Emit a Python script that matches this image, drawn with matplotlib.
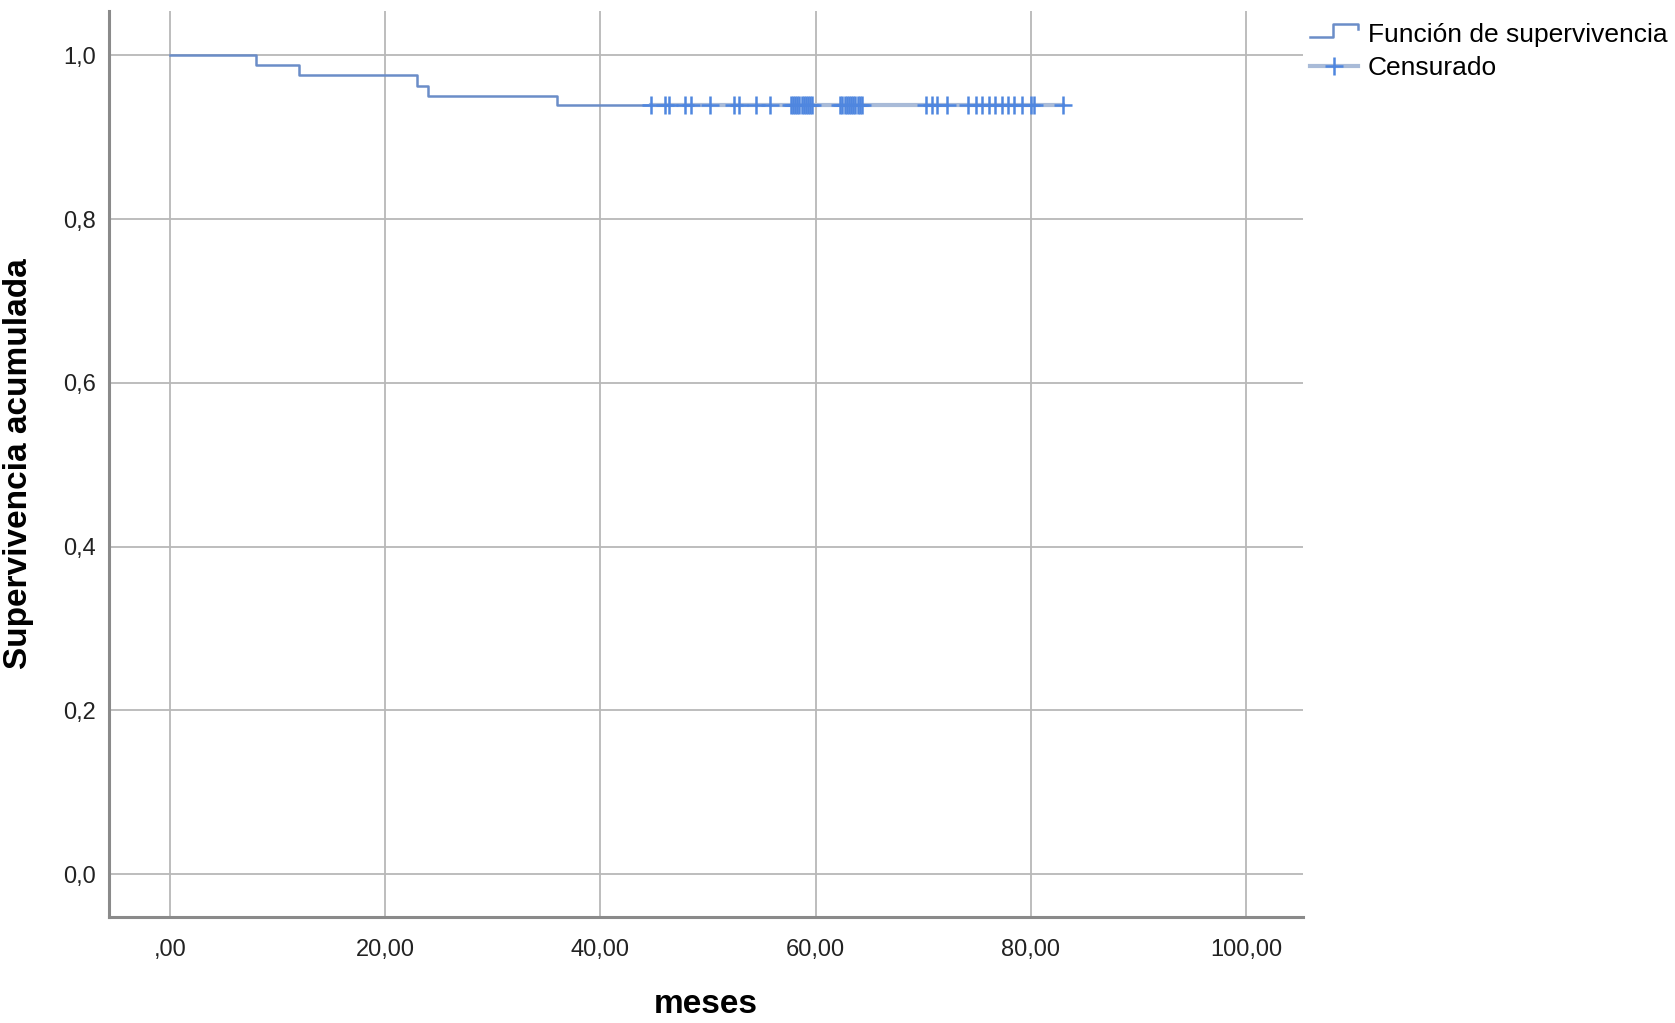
import matplotlib
matplotlib.use("Agg")
import matplotlib.pyplot as plt
from matplotlib.legend_handler import HandlerBase
from matplotlib.lines import Line2D

plt.rcParams['font.family'] = ['Liberation Sans', 'DejaVu Sans']

# Kaplan-Meier: tiempos de evento y supervivencia acumulada
event_times = [0, 8, 12, 23, 24, 36]
survival = [1.0, 0.988, 0.976, 0.963, 0.951, 0.939]

# Casos censurados (meses)
censored_times = [44.7, 46.0, 46.4, 47.9, 48.4, 50.2, 52.4, 52.9, 54.5, 55.8,
                  57.7, 57.9, 58.1, 58.3, 58.5, 58.7, 58.9, 59.1, 59.3, 59.5, 59.7,
                  62.3, 62.5, 62.7, 62.9, 63.1, 63.3, 63.5, 63.7, 63.9, 64.1, 64.3,
                  70.3, 70.8, 71.3, 72.2, 74.2, 74.9, 75.5, 76.1, 76.7, 77.3,
                  77.9, 78.4, 79.2, 80.0, 80.3, 83.0]

x_ticks = [0, 20, 40, 60, 80, 100]
x_labels = [",00", "20,00", "40,00", "60,00", "80,00", "100,00"]
y_ticks = [0.0, 0.2, 0.4, 0.6, 0.8, 1.0]
y_labels = ["0,0", "0,2", "0,4", "0,6", "0,8", "1,0"]


class StepHandler(HandlerBase):
    # dibuja el simbolo escalonado de la leyenda (estilo SPSS)
    def create_artists(self, legend, orig_handle, xdescent, ydescent,
                       width, height, fontsize, trans):
        x0 = -xdescent
        y0 = -ydescent
        xs = [x0, x0 + 0.48 * width, x0 + 0.48 * width, x0 + width, x0 + width]
        ys = [y0 + 0.28 * height, y0 + 0.28 * height, y0 + 1.0 * height,
              y0 + 1.0 * height, y0 + 0.73 * height]
        line = Line2D(xs, ys, color=orig_handle.get_color(),
                      lw=orig_handle.get_linewidth(), transform=trans)
        return [line]


fig = plt.figure(figsize=(16.75, 10.23), dpi=100)
ax = fig.add_axes([0.065, 0.104, 0.713, 0.885])

step_x = event_times + [max(censored_times)]
step_y = survival + [survival[-1]]
step_line, = ax.plot(step_x, step_y, drawstyle="steps-post", color="#6b8dc8",
                     lw=1.8, zorder=3, label="Función de supervivencia")

cens_line, = ax.plot(censored_times, [survival[-1]] * len(censored_times),
                     color="#a9bbd8", lw=3, marker="+", markersize=13,
                     markeredgewidth=1.8, markeredgecolor="#4f86df",
                     zorder=4, label="Censurado")

ax.set_xlim(-5.65, 105.3)
ax.set_ylim(-0.052, 1.054)
ax.set_xticks(x_ticks)
ax.set_xticklabels(x_labels)
ax.set_yticks(y_ticks)
ax.set_yticklabels(y_labels)
ax.tick_params(axis="both", length=0, labelsize=17, colors="#222222")
ax.tick_params(axis="x", pad=16)
ax.tick_params(axis="y", pad=9)

ax.grid(True, color="#b8b8b8", lw=1.3)
ax.set_axisbelow(True)
for side in ["top", "right"]:
    ax.spines[side].set_visible(False)
for side in ["left", "bottom"]:
    ax.spines[side].set_color("#8a8a8a")
    ax.spines[side].set_linewidth(2.2)

ax.set_xlabel("meses", fontsize=24, fontweight="bold")
ax.xaxis.set_label_coords(0.5, -0.0966)
ax.xaxis.label.set_va("center")
ax.set_ylabel("Supervivencia acumulada", fontsize=24, fontweight="bold")
ax.yaxis.set_label_coords(-0.0754, 0.5)
ax.yaxis.label.set_va("center")

fig.legend(handles=[step_line, cens_line],
           handler_map={step_line: StepHandler()},
           loc="upper left", bbox_to_anchor=(1310 / 1675, 1 - 23 / 1023),
           frameon=False, fontsize=19, borderpad=0, borderaxespad=0,
           handlelength=1.8, handletextpad=0.4, labelspacing=0.34)

fig.savefig("out.png", dpi=100)
